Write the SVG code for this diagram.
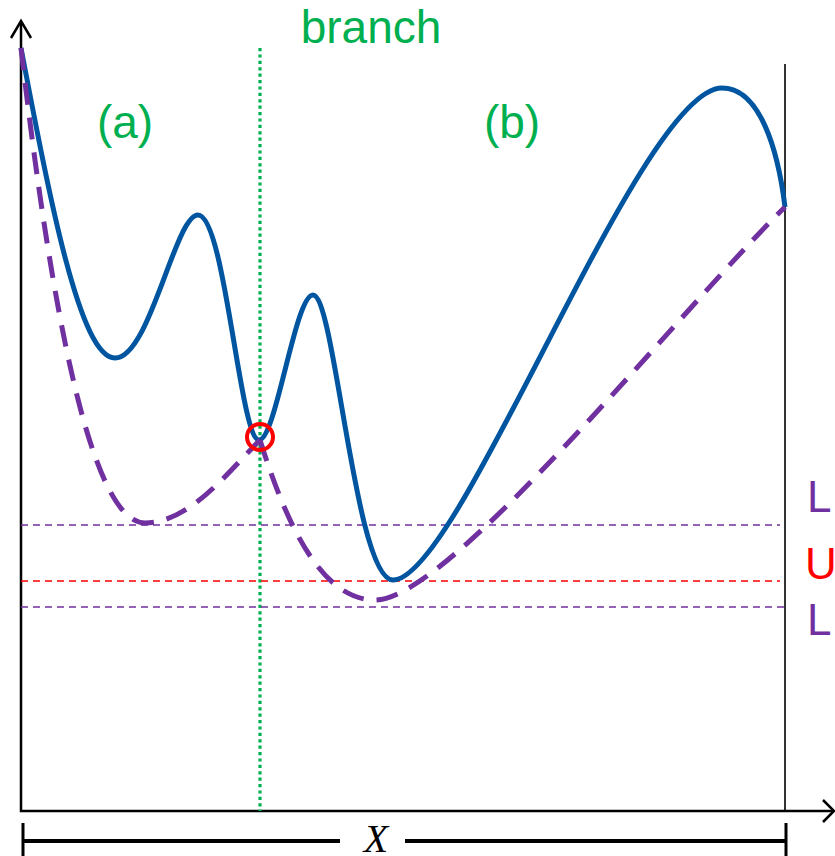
<svg xmlns="http://www.w3.org/2000/svg" width="835" height="856" viewBox="0 0 835 856">
<style>
.lbl{font-family:"Liberation Sans",Arial,sans-serif;font-size:46px}
.side{font-family:"Liberation Sans",Arial,sans-serif;font-size:44px}
.g{fill:#00B050}
.axis{stroke:#000;stroke-width:2.5;fill:none}
.hl{fill:none;stroke-width:1.6;stroke-dasharray:7 5}
</style>
<rect width="835" height="856" fill="#fff"/>
<g id="axes">
<path class="axis" d="M21,22 V811 H833"/>
<path class="axis" d="M11,38 L21,21 L31,38"/>
<path class="axis" d="M823,800 L834,811 L823,822"/>
<line x1="785" y1="64" x2="785" y2="811" stroke="#000" stroke-width="1.6"/>
</g>
<g id="branch-line">
<line x1="260" y1="48" x2="260" y2="811" stroke="#00B050" stroke-width="3.2" stroke-dasharray="3.2 3.2"/>
</g>
<g id="bounds">
<line class="hl" x1="21" y1="525" x2="780" y2="525" stroke="#7030A0"/>
<line class="hl" x1="21" y1="581" x2="780" y2="581" stroke="#FF0000"/>
<line class="hl" x1="21" y1="607" x2="785" y2="607" stroke="#7030A0"/>
</g>
<g id="objective">
<path d="M21,48 C50,200 80,358 115,358 C150,358 175,215 198,215 C225,215 240,440 259,440 C276,440 295,295 313,295 C335,295 355,580 393,580 C460,580 640,88 722,88 C760,88 778,150 785,207" fill="none" stroke="#0055A0" stroke-width="5"/>
</g>
<g id="relaxation">
<path d="M21,48 C50,300 90,523 145,523 C190,523 230,470 260,440" fill="none" stroke="#7030A0" stroke-width="5" stroke-dasharray="22 13"/>
<path d="M260,440 C285,520 320,600 375,600 C450,600 680,310 785,207" fill="none" stroke="#7030A0" stroke-width="5" stroke-dasharray="22 13"/>
</g>
<g id="incumbent">
<circle cx="260" cy="437" r="13" fill="none" stroke="#FF0000" stroke-width="4"/>
</g>
<g id="labels">
<text class="lbl g" x="371" y="43" text-anchor="middle">branch</text>
<text class="lbl g" x="125" y="138" text-anchor="middle">(a)</text>
<text class="lbl g" x="512" y="138" text-anchor="middle">(b)</text>
<text class="side" x="807" y="512" fill="#7030A0">L</text>
<text class="side" x="805" y="579" fill="#FF0000">U</text>
<text class="side" x="807" y="635" fill="#7030A0">L</text>
</g>
<g id="range">
<path d="M23,841 H340 M405,841 H786" stroke="#000" stroke-width="4" fill="none"/>
<path d="M23,823 V856 M786,823 V856" stroke="#000" stroke-width="3" fill="none"/>
<text x="376" y="852" text-anchor="middle" font-family="Liberation Serif,serif" font-style="italic" font-size="40">X</text>
</g>
</svg>
